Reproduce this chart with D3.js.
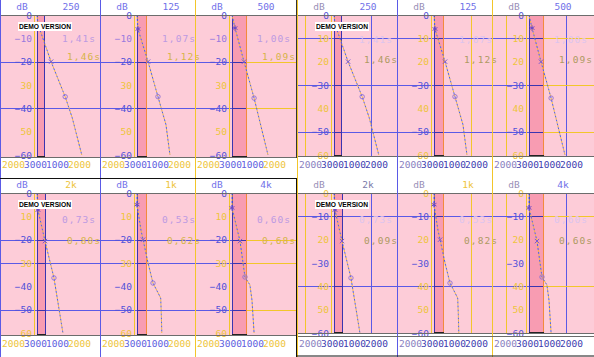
<!DOCTYPE html>
<html><head><meta charset="utf-8">
<script src="https://cdn.jsdelivr.net/npm/d3@7"></script>
<style>body{margin:0;background:#fff}svg{display:block}</style>
</head><body>
<svg id="c" width="594" height="357"></svg>
<script>
// ---------- data ----------
const bands = ["250","125","500","2k","1k","4k"];
const edtValues = [1.41,1.07,1.00,0.73,0.53,0.60];
const t30Left = [1.46,1.12,1.09,0.80,0.62,0.68];
const t30Right = [1.46,1.12,1.09,0.09,0.82,0.60];
const yTicks = [0,-10,-20,-30,-40,-50,-60];
const xTickLabels = ["2000","3000","1000","2000"];
const bandEndMs = [250,310,470,280,310,470];
const decay250 = [[0,0],[30,-4],[440,-20],[880,-35],[1100,-44],[1400,-60]];
const decay125 = [[0,0],[30,-6],[345,-20],[655,-35],[905,-47],[1030,-60]];
const decay500 = [[0,0],[95,-5.6],[375,-20],[690,-35.6],[1125,-60]];
const decay2k  = [[0,0],[30,-7.3],[250,-20.6],[530,-36.4],[810,-60]];
const decay1k  = [[0,0],[0,-5],[125,-16],[190,-20],[345,-30],[500,-38.6],[740,-45],[760,-52],[775,-60]];
const decay4k  = [[0,0],[0,-6.4],[250,-20.6],[405,-36],[560,-39.4],[625,-46],[690,-60]];
const decays = [decay250,decay125,decay500,decay2k,decay1k,decay4k];
const startMarks = [[30,-5],[30,-6],[95,-5.6],[30,-7.3],[0,-5],[0,-6.4]];
const midMarks   = [[440,-20],[345,-20],[375,-20],[250,-20.6],[190,-20],[250,-20.6]];
const endMarks   = [[880,-35],[655,-35],[690,-35.6],[530,-36.4],[500,-38.6],[405,-36]];

// ---------- style / layout ----------
const C = {blue:'#5a5ae6', yellow:'#f2c62a', pink:'#fdccd8', band:'#f89cb2', navy:'#3a34b0',
  purple:'#9a7ade', orange:'#f38a3c', gray:'#6c6c6c'};
const FONT = "'DejaVu Sans Mono', monospace";
const svg = d3.select('#c');
const halves = [{x:0, side:'L', pinkX:0, pinkW:297}, {x:297, side:'R', pinkX:298, pinkW:296}];
const colX = [0,100,195];
const rows = [{top:15, bottom:155, header:6.5, labelY:165}, {top:193, bottom:333, header:184.5, labelY:344}];
const pinkBottoms = {L0:157, R0:156, L1:335, R1:333};
const masks = {L0:'bpbybyb', R0:'byybyby', L1:'bybybby', R1:'ybybyyb'};
const gridDb = {L0:[-20,-40], R0:[-10,-30,-50], L1:[-20,-30,-50], R1:[-10,-40]};
const textDb = {L0:[-10.3,-18], R0:[-10.7,-19.3], L1:[-11.4,-20.3], R1:[-11.4,-20.6]};
const maskColor = {b:'#5252d8', y:'#eec43a', p:C.purple};

function seg(x1,y1,x2,y2,col,w){
  svg.append('line').attr('x1',x1).attr('y1',y1).attr('x2',x2).attr('y2',y2)
    .attr('stroke',col).attr('stroke-width',w||1);
}

halves.forEach((h,hi)=>{
  rows.forEach((r,ri)=>{
    const key = h.side+ri;
    const pb = pinkBottoms[key];
    const y = d3.scaleLinear().domain([0,-60]).range([r.top, r.bottom]);
    svg.append('rect').attr('x',h.pinkX).attr('y',r.top).attr('width',h.pinkW)
      .attr('height',pb-r.top).attr('fill',C.pink);

    colX.forEach((cx,ci)=>{
      const b = ri*3+ci;
      const x0 = h.x+cx;
      const pw = (ci<2 ? colX[ci+1] : 297) - cx;
      const x = d3.scaleLinear().domain([0,2000]).range([x0+37, x0+101]);
      const bx0 = x(0), bx1 = x(bandEndMs[b]);
      svg.append('rect').attr('x',bx0).attr('y',r.top).attr('width',bx1-bx0)
        .attr('height',pb-r.top).attr('fill',C.band);

      if (h.side==='R'){
        const v1 = ci===2 ? 14 : 8;
        if (ci!==1) seg(x0+v1+0.5, r.top, x0+v1+0.5, pb, C.yellow);
        seg(x0+74.5, r.top, x0+74.5, pb, ci===1 ? C.yellow : C.blue);
      }
      gridDb[key].forEach(db=>{
        const yy = Math.round(y(db))+0.5;
        seg(x0, yy, bx0, yy, C.blue);
        seg(bx0, yy, bx1, yy, C.navy);
        seg(bx1, yy, x0+pw, yy, ci===2 ? C.yellow : C.blue);
      });
      seg(x0+34.5, r.top, x0+34.5, pb, C.yellow);
      seg(Math.round(bx0)+0.5, r.top, Math.round(bx0)+0.5, pb, C.navy);
      seg(Math.round(bx1)-0.5, r.top, Math.round(bx1)-0.5, pb, ci===0 ? C.navy : C.orange);
      seg(bx0, r.top+0.5, bx1, r.top+0.5, '#222');
      seg(bx0, pb-0.5, bx1, pb-0.5, '#222');

      const m = masks[key];
      const ax = svg.append('g').attr('transform',`translate(${x0+33},0)`)
        .call(d3.axisLeft(y).tickValues(yTicks).tickSize(0).tickPadding(1)
          .tickFormat((d,i)=> d===0 ? '0' : (m[i]==='y' ? String(-d) : '\u2212'+(-d))));
      ax.select('.domain').remove();
      ax.selectAll('text').attr('font-family',FONT).attr('font-size',9.5)
        .attr('fill',(d,i)=>maskColor[m[i]]);

      const line = d3.line().x(d=>x(d[0])).y(d=>y(d[1]));
      svg.append('path').attr('d',line(decays[b])).attr('fill','none')
        .attr('stroke','#4a64e8').attr('stroke-width',1).attr('stroke-dasharray','2,2');
      svg.append('path').attr('d',line(decays[b])).attr('fill','none')
        .attr('stroke','#f2b83a').attr('stroke-width',1).attr('stroke-dasharray','2,2')
        .attr('stroke-dashoffset',2);
      const sym = (t,pt,size,col)=> svg.append('path')
        .attr('d',d3.symbol().type(t).size(size)())
        .attr('transform',`translate(${x(pt[0])},${y(pt[1])})`)
        .attr('fill','none').attr('stroke',col).attr('stroke-width',1);
      sym(d3.symbolAsterisk, startMarks[b], 22, '#6a48c8');
      sym(d3.symbolTimes, midMarks[b], 14, '#7a5ad0');
      svg.append('circle').attr('cx',x(endMarks[b][0])).attr('cy',y(endMarks[b][1])).attr('r',2.2)
        .attr('fill','none').attr('stroke','#9070d0').attr('stroke-width',0.9);

      const fmt = v => v.toFixed(2).replace('.',',')+'s';
      const td = textDb[key];
      svg.append('text').attr('x',x0+62).attr('y',y(td[0])).attr('dy','0.35em')
        .attr('font-family',FONT).attr('font-size',9.5).attr('textLength',33)
        .attr('fill', h.side==='L' ? '#bc9ae2' : '#dcc4ee').text(fmt(edtValues[b]));
      svg.append('text').attr('x',x0+67).attr('y',y(td[1])).attr('dy','0.35em')
        .attr('font-family',FONT).attr('font-size',9.5).attr('textLength',33)
        .attr('fill', h.side==='L' ? '#d6b448' : '#ae9a62')
        .text(fmt(h.side==='L' ? t30Left[b] : t30Right[b]));

      svg.append('text').attr('x',x0+22).attr('y',r.header).attr('dy','0.35em')
        .attr('text-anchor','middle').attr('font-family',FONT).attr('font-size',9.5)
        .attr('fill', h.side==='L' ? '#7474ea' : '#9a90b8').text('dB');
      svg.append('text').attr('x',x0+71).attr('y',r.header).attr('dy','0.35em')
        .attr('text-anchor','middle').attr('font-family',FONT).attr('font-size',9.5)
        .attr('fill', (ri===1 && ci<2) ? (h.side==='L'||ci===1 ? '#eec43a' : '#7a7aa8') : '#7070e8')
        .text(bands[b]);

      const xl = d3.scalePoint().domain(d3.range(xTickLabels.length)).range([x0+13, x0+79]);
      const xa = svg.append('g').attr('transform',`translate(0,${r.labelY})`)
        .call(d3.axisBottom(xl).tickSize(0).tickFormat(i=>xTickLabels[i]));
      xa.select('.domain').remove();
      xa.selectAll('text').attr('y',0).attr('dy','0.35em').attr('font-family',FONT).attr('font-size',9.5)
        .attr('fill',(d,i)=> h.side==='L' ? (i%3===0 ? '#eec43a' : '#6060e0') : (i===0 ? '#8a80c0' : '#4040b0'));

      if (ci===0){
        svg.append('rect').attr('x',x0+18).attr('y',r.top+7).attr('width',54).attr('height',9).attr('fill','#fff');
        svg.append('text').attr('x',x0+19).attr('y',r.top+11.5).attr('dy','0.35em')
          .attr('font-family','Liberation Sans, Arial, sans-serif').attr('font-weight','bold')
          .attr('font-size',8).attr('textLength',52).attr('lengthAdjust','spacingAndGlyphs')
          .attr('fill','#000').text('DEMO VERSION');
      }
    });
    seg(h.pinkX, r.top+0.5, h.pinkX+h.pinkW, r.top+0.5, C.gray);
    seg(h.pinkX, pb+0.5, h.pinkX+h.pinkW, pb+0.5, C.gray);
  });
});

seg(0.5,0,0.5,357,C.blue);
seg(100.5,0,100.5,357,C.blue);
seg(195.5,0,195.5,357,C.yellow);
seg(296.5,0,296.5,158,'#333');
seg(296.5,178,296.5,357,'#111');
seg(297.5,0,297.5,357,C.yellow);
seg(397.5,0,397.5,357,C.blue);
seg(492.5,0,492.5,357,C.yellow);
seg(0,178.5,297,178.5,'#111');
seg(297,356,594,356,'#111');
seg(298,336.5,594,336.5,C.gray);
</script>
</body></html>
